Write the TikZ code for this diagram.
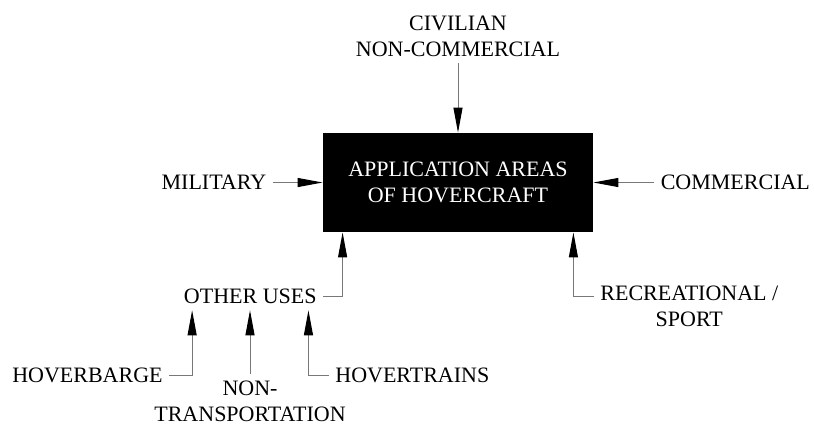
\documentclass[tikz,border=0pt]{standalone}
\usepackage{fontspec}
\setmainfont{Liberation Serif}
\usetikzlibrary{arrows.meta,positioning,calc}
\definecolor{ConnGray}{RGB}{120,120,120}
\tikzset{
  areabox/.style={fill=black, text=white, align=center, minimum width=135pt,
    minimum height=49.5pt, font=\fontsize{11}{13}\selectfont, inner sep=3pt},
  uselabel/.style={align=center, font=\fontsize{11}{13}\selectfont, inner sep=3pt},
  usearr/.style={-{Triangle[length=12.5pt, width=4.5pt, black]}, line width=0.5pt, ConnGray},
}
\begin{document}
\begin{tikzpicture}[x=0.5pt, y=-0.5pt]
    \useasboundingbox (0,0) rectangle (814,425);

    \node[areabox] (app) at (458,182.5) {APPLICATION AREAS\\ OF HOVERCRAFT};

    % --- direct application areas ---
    \node[uselabel] (civ) at (458,36.5) {CIVILIAN\\ NON-COMMERCIAL};
    \node[uselabel, left=25pt of app] (mil) {MILITARY};
    \node[uselabel, right=30.5pt of app] (com) {COMMERCIAL};
    \node[uselabel, anchor=east] (other) at (323,296.5) {OTHER USES};
    \node[uselabel, anchor=west] (rec) at (594,306.5) {RECREATIONAL /\\ SPORT};
    \draw[usearr] (civ.south) -- (app.north);
    \draw[usearr] (mil.east) -- (app.west);
    \draw[usearr] (com.west) -- (app.east);
    \draw[usearr] (other.east) -| ($(app.south west)+(20,0)$);
    \draw[usearr] ($(rec.north west)!0.31!(rec.south west)$) -| ($(app.south east)+(-20,0)$);

    % --- other uses ---
    \node[uselabel, anchor=east] (hb) at (169,375) {HOVERBARGE};
    \node[uselabel] (non) at (250,401) {NON-\\ TRANSPORTATION};
    \node[uselabel, anchor=west] (ht) at (329,375) {HOVERTRAINS};
    \draw[usearr] (hb.east) -| ($(other.south west)!0.1!(other.south east)$);
    \draw[usearr] (non.north) -- (non.north |- other.south);
    \draw[usearr] (ht.west) -| ($(other.south west)!0.9!(other.south east)$);
\end{tikzpicture}
\end{document}
